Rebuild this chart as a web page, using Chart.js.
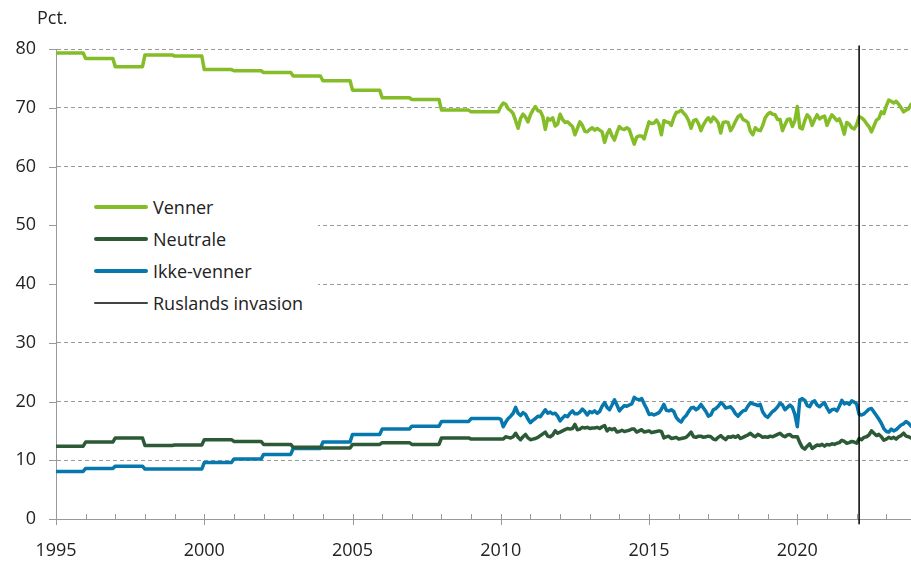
<!DOCTYPE html>
<html>
<head>
<meta charset="utf-8">
<script src="https://cdn.jsdelivr.net/npm/chart.js@4.4.0/dist/chart.umd.min.js"></script>
<style>
  body { margin: 0; background: #fff; font-family: "Open Sans", sans-serif; }
  #wrap { position: relative; width: 911px; height: 561px; }
  #unit { position: absolute; left: 37px; top: 5px; font-size: 18px; color: #222; }
  #legend { position: absolute; left: 57px; top: 172px; width: 261px; height: 165px; background: #fff; padding-top: 19px; box-sizing: border-box; }
  .item { height: 32px; display: flex; align-items: center; font-size: 18px; color: #222; }
  .swatch { margin-left: 37px; width: 54px; margin-right: 5px; border-radius: 2px; }
</style>
</head>
<body>
<div id="wrap">
  <canvas id="myChart" width="911" height="561"></canvas>
  <div id="unit">Pct.</div>
  <div id="legend"></div>
</div>
<script>
// annual values 1995-2009 (shown as flat steps, one value per month)
var annualYears = [1995, 1996, 1997, 1998, 1999, 2000, 2001, 2002, 2003, 2004, 2005, 2006, 2007, 2008, 2009];
var vennerAnnual    = [79.3, 78.4, 77.0, 79.0, 78.8, 76.5, 76.3, 76.0, 75.4, 74.6, 73.0, 71.7, 71.4, 69.6, 69.3];
var neutraleAnnual  = [12.4, 13.1, 13.8, 12.5, 12.6, 13.5, 13.2, 12.7, 12.2, 12.1, 12.7, 13.0, 12.7, 13.8, 13.6];
var ikkeVennerAnnual = [8.1, 8.6, 9.0, 8.5, 8.5, 9.6, 10.2, 11.0, 12.0, 13.1, 14.4, 15.3, 15.8, 16.6, 17.1];

// monthly values from jan 2010 to nov 2023
var monthlyStart = 2010;
var vennerMonthly = [
  70.2, 70.8, 70.6, 69.8, 69.5, 69.0, 67.8, 66.5, 68.2, 68.9, 68.4, 67.6,
  68.8, 69.6, 70.2, 69.5, 69.4, 68.5, 66.3, 68.2, 67.9, 68.3, 66.9, 67.2,
  68.9, 68.0, 67.5, 67.6, 67.2, 66.8, 65.4, 66.5, 67.6, 67.0, 66.0, 65.9,
  66.3, 66.6, 66.2, 66.5, 66.2, 65.9, 64.1, 65.5, 66.3, 65.2, 64.5, 65.8,
  66.8, 66.4, 66.3, 66.6, 66.3, 65.0, 63.8, 65.0, 65.2, 65.2, 64.7, 66.2,
  67.6, 67.3, 67.4, 67.9, 67.2, 65.4, 67.8, 67.6, 67.5, 67.0, 68.3, 69.2,
  69.3, 69.6, 69.1, 68.6, 67.8, 66.5, 67.8, 68.0, 67.3, 66.1, 67.1, 67.8,
  68.3, 67.6, 68.4, 68.0, 67.4, 65.7, 67.5, 67.6, 67.5, 66.1, 66.8, 67.7,
  68.5, 68.8, 68.0, 67.8, 67.5, 66.0, 65.4, 66.6, 66.2, 66.1, 67.0, 68.3,
  68.9, 69.2, 68.9, 68.8, 68.0, 68.0, 66.1, 67.1, 68.0, 68.1, 66.8, 67.8,
  70.2, 66.6, 66.4, 67.8, 68.8, 68.3, 67.0, 68.0, 68.8, 68.1, 68.4, 68.6,
  67.0, 68.0, 68.8, 68.3, 67.8, 68.1, 67.0, 65.5, 67.5, 67.2, 66.6, 66.4,
  67.1, 68.5, 68.3, 67.9, 67.3, 66.8, 65.9, 66.9, 67.9, 68.2, 69.3, 69.0,
  70.3, 71.3, 71.1, 70.8, 71.1, 70.6, 70.0, 69.3, 69.6, 69.8, 70.6
];
var neutraleMonthly = [
  13.6, 13.6, 14.0, 13.9, 13.8, 14.0, 14.6, 13.9, 13.5, 14.0, 14.4, 13.8,
  13.5, 13.6, 13.7, 13.9, 14.2, 14.5, 14.8, 14.1, 14.0, 14.3, 15.0, 14.6,
  14.8, 15.0, 15.2, 15.4, 15.3, 15.4, 16.1, 15.2, 15.3, 15.6, 15.5, 15.6,
  15.4, 15.5, 15.5, 15.6, 15.4, 15.7, 15.9, 15.0, 15.4, 15.2, 15.4, 14.8,
  14.9, 15.1, 14.9, 15.0, 15.1, 15.3, 15.3, 14.8, 15.0, 15.2, 14.8, 14.9,
  15.0, 14.7, 14.8, 14.9, 15.0, 14.9, 13.8, 14.0, 14.1, 13.7, 13.8, 13.9,
  13.6, 13.7, 13.8, 13.9, 14.3, 14.8, 14.0, 13.9, 14.1, 14.1, 13.9, 14.0,
  14.1, 14.0, 13.6, 13.5, 13.9, 14.2, 13.8, 13.5, 14.0, 13.9, 14.1, 13.9,
  14.2, 13.7, 13.9, 14.1, 14.3, 14.6, 14.2, 14.0, 14.4, 14.2, 13.9, 14.0,
  13.9, 14.1, 14.0, 14.2, 14.4, 14.6, 14.2, 14.0, 14.3, 14.4, 14.0, 14.0,
  14.0, 13.0, 12.2, 11.9, 12.4, 12.8, 12.0, 12.3, 12.6, 12.5, 12.7, 12.4,
  12.7, 12.6, 12.8, 12.7, 12.9, 13.0, 13.4, 13.2, 12.9, 13.0, 13.2, 13.1,
  12.9, 13.7, 13.5, 13.9, 14.0, 14.3, 15.0, 14.6, 14.2, 14.4, 14.0, 13.4,
  13.6, 13.9, 13.7, 13.9, 13.6, 14.0, 14.2, 14.6, 14.1, 14.0, 13.8
];
var ikkeVennerMonthly = [
  17.0, 15.7, 16.5, 17.1, 17.5, 18.0, 19.0, 18.0, 17.6, 18.1, 17.8, 17.0,
  16.4, 16.8, 17.1, 17.5, 17.4, 18.0, 18.6, 18.0, 18.2, 17.9, 18.0, 17.5,
  16.7, 17.2, 17.6, 17.4, 18.0, 18.4, 17.9, 17.9, 18.2, 18.7, 18.3, 17.7,
  18.3, 18.1, 18.4, 18.0, 18.3, 19.2, 19.8, 19.0, 18.6, 19.4, 20.3, 19.4,
  18.4, 18.9, 19.3, 19.2, 19.4, 19.6, 20.7, 20.4, 20.3, 20.5, 19.6, 18.8,
  17.8, 17.9, 17.7, 17.9, 18.1, 18.7, 19.5, 18.5, 18.4, 18.6, 18.3, 17.3,
  16.8, 16.5, 17.2, 17.6, 18.3, 18.9, 19.0, 18.6, 18.9, 19.5, 18.9, 18.3,
  17.5, 17.7, 18.6, 18.8, 19.2, 19.8, 19.5, 18.9, 19.0, 19.1, 18.6, 17.9,
  17.5, 18.0, 18.4, 18.5, 19.2, 19.8, 19.6, 19.5, 19.3, 19.5, 18.2, 17.6,
  17.3, 17.8, 18.3, 18.6, 19.1, 19.7, 19.4, 18.6, 19.0, 19.4, 19.0, 17.8,
  15.7, 20.3, 20.5, 20.2, 19.3, 19.1, 19.9, 20.1, 19.4, 19.1, 19.5, 19.8,
  18.9, 18.2, 18.6, 18.7, 18.4, 19.2, 20.2, 19.6, 19.8, 19.5, 20.1, 19.9,
  19.6, 17.8, 17.7, 17.9, 18.3, 18.7, 18.8, 18.2, 17.6, 17.0, 16.3, 15.4,
  14.9, 14.8, 15.3, 15.0, 15.2, 15.6, 16.0, 16.2, 16.6, 16.3, 15.8
];

var invasionDate = 2022 + 1 / 12; // februar 2022
var xMin = 1995, xMax = 2023 + 10 / 12;
var yTicks = [0, 10, 20, 30, 40, 50, 60, 70, 80];

var colors = { venner: '#84bd27', neutrale: '#2c5a37', ikke: '#0778ad' };

function buildSeries(annual, monthly) {
  var pts = [];
  annualYears.forEach(function (yr, i) {
    for (var m = 0; m < 12; m++) pts.push({ x: yr + m / 12, y: annual[i] });
  });
  monthly.forEach(function (v, i) {
    pts.push({ x: monthlyStart + i / 12, y: v });
  });
  return pts;
}

// tick marks on both axes
var tickMarks = {
  id: 'tickMarks',
  afterDraw: function (chart) {
    var c = chart.ctx, xs = chart.scales.x, ys = chart.scales.y;
    var bottom = chart.chartArea.bottom, left = chart.chartArea.left;
    c.save();
    c.strokeStyle = '#999';
    c.lineWidth = 1;
    c.beginPath();
    for (var yr = 1995; yr <= 2023; yr++) {
      var px = Math.round(xs.getPixelForValue(yr)) + 0.5;
      c.moveTo(px, bottom - 5);
      c.lineTo(px, yr % 5 === 0 ? bottom + 6 : bottom);
    }
    yTicks.forEach(function (v) {
      var py = Math.round(ys.getPixelForValue(v)) + 0.5;
      c.moveTo(left - 7, py);
      c.lineTo(left, py);
    });
    c.stroke();
    c.restore();
  }
};

var ctx = document.getElementById('myChart').getContext('2d');
var myChart = new Chart(ctx, {
  type: 'line',
  data: {
    datasets: [
      {
        label: 'Ruslands invasion',
        data: [{ x: invasionDate, y: -0.8 }, { x: invasionDate, y: 80.5 }],
        borderColor: '#000',
        borderWidth: 1.5,
        pointRadius: 0,
        clip: 6
      },
      {
        label: 'Venner',
        data: buildSeries(vennerAnnual, vennerMonthly),
        borderColor: colors.venner,
        borderWidth: 3.5,
        pointRadius: 0
      },
      {
        label: 'Neutrale',
        data: buildSeries(neutraleAnnual, neutraleMonthly),
        borderColor: colors.neutrale,
        borderWidth: 3.5,
        pointRadius: 0
      },
      {
        label: 'Ikke-venner',
        data: buildSeries(ikkeVennerAnnual, ikkeVennerMonthly),
        borderColor: colors.ikke,
        borderWidth: 3.5,
        pointRadius: 0
      }
    ]
  },
  options: {
    responsive: false,
    animation: false,
    devicePixelRatio: 1,
    layout: { padding: { top: 49, right: 0, left: 0, bottom: 0 } },
    plugins: { legend: { display: false }, tooltip: { enabled: false } },
    elements: { line: { tension: 0, borderJoinStyle: 'round', borderCapStyle: 'round' } },
    scales: {
      x: {
        type: 'linear',
        min: xMin,
        max: xMax,
        afterFit: function (s) { s.height = 42; s.paddingRight = 0; s.paddingLeft = 0; },
        grid: { display: false },
        border: { display: true, color: '#999', width: 1 },
        ticks: {
          stepSize: 1,
          autoSkip: false,
          maxRotation: 0,
          padding: 13,
          color: '#222',
          font: { family: 'Open Sans', size: 18 },
          callback: function (v) { return Number.isInteger(v) && v % 5 === 0 ? String(v) : ''; }
        }
      },
      y: {
        min: 0,
        max: 80,
        afterFit: function (s) { s.width = 56; },
        grid: { color: '#9a9a9a', lineWidth: 1, drawTicks: false },
        border: { display: true, color: '#999', width: 1, dash: [4, 3] },
        ticks: {
          stepSize: 10,
          padding: 20,
          color: '#222',
          font: { family: 'Open Sans', size: 18 }
        }
      }
    }
  },
  plugins: [tickMarks]
});

// legend as html, drawn over the plot
var legendItems = [
  { label: 'Venner', color: colors.venner, h: 4 },
  { label: 'Neutrale', color: colors.neutrale, h: 4 },
  { label: 'Ikke-venner', color: colors.ikke, h: 4 },
  { label: 'Ruslands invasion', color: '#444', h: 2 }
];
var leg = document.getElementById('legend');
legendItems.forEach(function (it) {
  var row = document.createElement('div');
  row.className = 'item';
  var sw = document.createElement('span');
  sw.className = 'swatch';
  sw.style.background = it.color;
  sw.style.height = it.h + 'px';
  row.appendChild(sw);
  row.appendChild(document.createTextNode(it.label));
  leg.appendChild(row);
});
</script>
</body>
</html>
